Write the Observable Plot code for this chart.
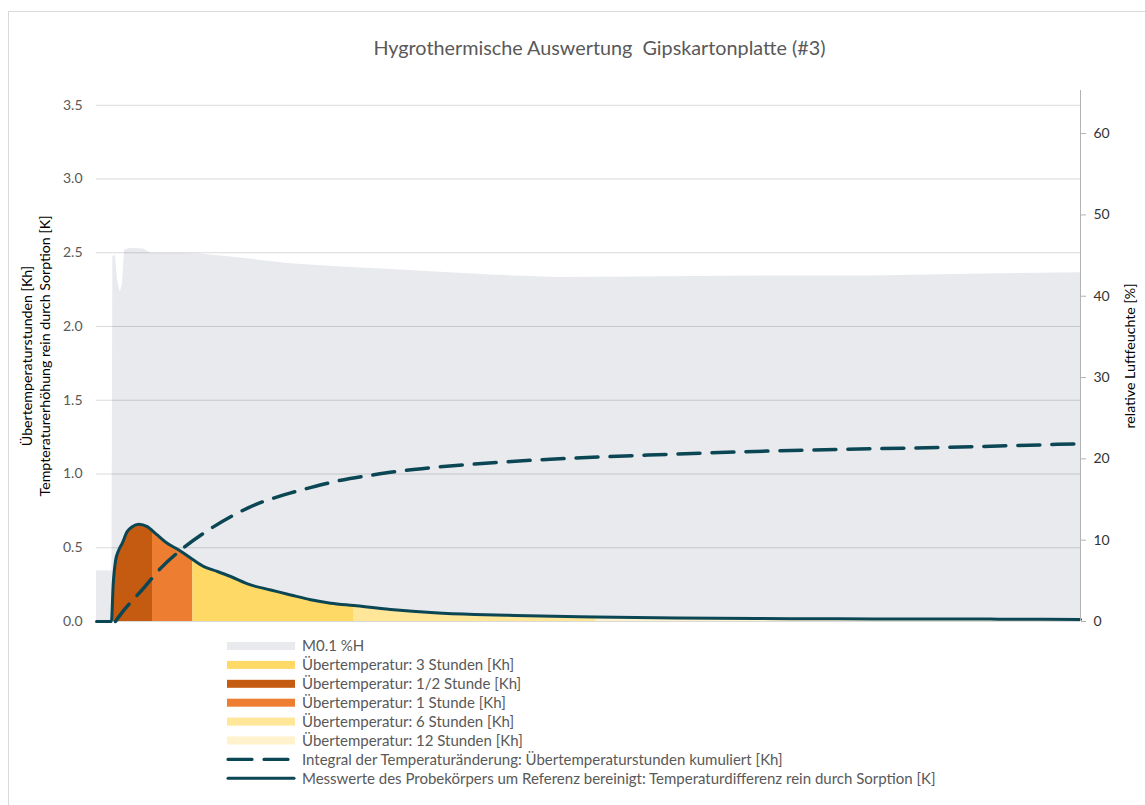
<!DOCTYPE html>
<html><head><meta charset="utf-8">
<script src="https://cdn.jsdelivr.net/npm/d3@7"></script>
<script src="https://cdn.jsdelivr.net/npm/@observablehq/plot@0.6"></script>
<style>
body{margin:0;background:#fff;overflow:hidden;font-family:Lato,sans-serif;}
#wrap{position:relative;width:1145px;height:805px;overflow:hidden;}
#frame{position:absolute;left:8px;top:11px;width:1200px;height:900px;border:1px solid #d9d9d9;box-sizing:border-box;}
#title{position:absolute;top:35px;left:0;width:1199px;text-align:center;font-size:19.8px;color:#595959;white-space:pre;}
#plot{position:absolute;left:0;top:0;}
.ylab{position:absolute;text-align:center;font-size:14.2px;color:#000;line-height:18px;transform:rotate(-90deg);transform-origin:50% 50%;white-space:nowrap;}
#legend{position:absolute;left:0;top:636px;}
</style></head>
<body><div id="wrap">
<div id="frame"></div>
<div id="plot"></div>
<div id="title">Hygrothermische Auswertung  Gipskartonplatte (#3)</div>
<div class="ylab" style="left:-164px;top:337.5px;width:400px;height:36px;">Übertemperaturstunden [Kh]<br>Tempteraturerhöhung rein durch Sorption [K]</div>
<div class="ylab" style="left:980px;top:346.5px;width:300px;height:18px;">relative Luftfeuchte [%]</div>
<div id="legend"></div>
</div>
<script>
// time axis in hours after start of sorption
const humT = [-0.195, -0.003, 0.008, 0.04, 0.066, 0.1, 0.128, 0.153, 0.23, 0.39, 0.48, 0.79, 1.1, 1.59, 2.21, 2.84, 3.46, 4.7, 5.54, 6.51, 7.98, 9.43, 10.65, 12.02];
const humH = [6.2, 6.2, 44.9, 45.0, 42.0, 40.5, 41.5, 45.7, 45.9, 45.8, 45.3, 45.3, 45.2, 44.7, 44.0, 43.6, 43.3, 42.6, 42.3, 42.35, 42.5, 42.5, 42.7, 42.9];

const lineT = [-0.195, -0.01, 0.012, 0.041, 0.082, 0.124, 0.186, 0.248, 0.33, 0.435, 0.5, 0.559, 0.683, 0.827, 1.0, 1.138, 1.306, 1.47, 1.718, 1.967, 2.215, 2.464, 2.712, 3.0, 3.457, 4.0, 4.5, 5.0, 6.0, 7.0, 8.0, 9.0, 10.0, 11.0, 12.02];
const lineV = [0, 0, 0.25, 0.41, 0.485, 0.53, 0.61, 0.643, 0.66, 0.643, 0.615, 0.587, 0.53, 0.485, 0.42, 0.372, 0.339, 0.305, 0.248, 0.214, 0.18, 0.147, 0.124, 0.108, 0.082, 0.06, 0.048, 0.041, 0.031, 0.024, 0.02, 0.018, 0.017, 0.016, 0.014];

const intT = [0.04, 0.10, 0.39, 0.60, 0.886, 1.18, 1.47, 1.80, 2.13, 2.46, 2.84, 3.25, 3.6, 4.0, 4.5, 5.44, 6.65, 7.86, 9.07, 10.29, 12.0];
const intV = [0, 0.045, 0.226, 0.36, 0.5, 0.615, 0.71, 0.797, 0.858, 0.908, 0.958, 0.995, 1.022, 1.045, 1.068, 1.10, 1.128, 1.151, 1.167, 1.18, 1.205];

const bandStart = [-0.01, 0.5, 1, 3, 6];
const bandEnd = [0.5, 1, 3, 6, 12.02];
const bandColor = ["#C55A11", "#ED7D31", "#FFD966", "#FFE699", "#FFF2CC"];

const leftTicks = [0, 0.5, 1, 1.5, 2, 2.5, 3, 3.5];
const rightTicks = [0, 10, 20, 30, 40, 50, 60];

const legendLabels = ["M0.1 %H", "Übertemperatur: 3 Stunden [Kh]", "Übertemperatur: 1/2 Stunde [Kh]", "Übertemperatur: 1 Stunde [Kh]", "Übertemperatur: 6 Stunden [Kh]", "Übertemperatur: 12 Stunden [Kh]", "Integral der Temperaturänderung: Übertemperaturstunden kumuliert [Kh]", "Messwerte des Probekörpers um Referenz bereinigt: Temperaturdifferenz rein durch Sorption [K]"];

const GRAY = "#E9EAEE", TEAL = "#0b4654";
const f = 3.6 / 65.3; // right axis (%) to left axis units

const hum = humT.map((t, i) => ({t, h: humH[i]}));
const line = lineT.map((t, i) => ({t, v: lineV[i]}));
const integ = intT.map((t, i) => ({t, v: intV[i]}));

const bandMarks = bandStart.map((a, i) =>
  Plot.areaY(line.filter(d => d.t >= a && d.t <= bandEnd[i]), {x: "t", y: "v", fill: bandColor[i], curve: "monotone-x"}));

const chart = Plot.plot({
  width: 1145, height: 640,
  marginLeft: 96, marginRight: 65, marginTop: 90, marginBottom: 19,
  x: {domain: [-0.195, 12.02], axis: null},
  y: {domain: [0, 3.6], axis: null},
  style: {fontFamily: "Lato, sans-serif", fontSize: "14px", background: "transparent"},
  marks: [
    Plot.areaY(hum, {x: "t", y: d => d.h * f, fill: GRAY}),
    Plot.gridY(leftTicks, {stroke: "#000", strokeOpacity: 0.15}),
    ...bandMarks,
    Plot.lineY(integ, {x: "t", y: "v", stroke: TEAL, strokeWidth: 3.5, strokeDasharray: "22,12", curve: "monotone-x"}),
    Plot.lineY(line, {x: "t", y: "v", stroke: TEAL, strokeWidth: 3, curve: "monotone-x", strokeLinejoin: "round"}),
    Plot.ruleX([12.02], {stroke: "#b3b3b3"}),
    Plot.axisY({ticks: leftTicks, tickSize: 0, tickPadding: 14, tickFormat: d3.format(".1f"), fill: "#595959", label: null}),
    Plot.axisY({anchor: "right", ticks: rightTicks.map(v => v * f), tickFormat: d => String(Math.round(d / f)), tickSize: 5, tickPadding: 8, stroke: "#b3b3b3", fill: "#333", label: null})
  ]
});
document.getElementById("plot").appendChild(chart);

// legend
const lg = d3.select("#legend").append("svg").attr("width", 1145).attr("height", 165)
  .style("font-family", "Lato, sans-serif");
const legendSwatch = ["area", "area", "area", "area", "area", "area", "dash", "line"];
const legendFill = [GRAY, bandColor[2], bandColor[0], bandColor[1], bandColor[3], bandColor[4], TEAL, TEAL];
legendLabels.forEach((lab, i) => {
  const y = 10 + i * 18.9;
  const g = lg.append("g");
  if (legendSwatch[i] === "area") {
    g.append("rect").attr("x", 227).attr("y", y - 4).attr("width", 68).attr("height", 8).attr("fill", legendFill[i]);
  } else {
    g.append("line").attr("x1", 228).attr("x2", 294).attr("y1", y).attr("y2", y)
      .attr("stroke", TEAL).attr("stroke-width", legendSwatch[i] === "dash" ? 3.2 : 3)
      .attr("stroke-linecap", "round")
      .attr("stroke-dasharray", legendSwatch[i] === "dash" ? "24,12" : null);
  }
  g.append("text").attr("x", 302).attr("y", y).attr("dy", "0.35em").attr("font-size", 15)
    .attr("fill", "#595959").text(lab);
});
</script>
</body></html>
